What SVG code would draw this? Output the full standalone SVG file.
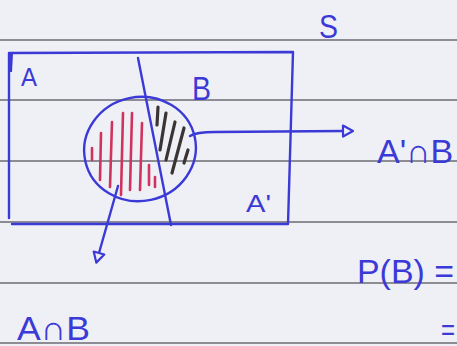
<svg xmlns="http://www.w3.org/2000/svg" width="457" height="346" viewBox="0 0 457 346">
<defs>
<style>
.rule{stroke:#6b6b70;stroke-width:1.6;fill:none}
.pen{stroke:#3c3ad6;stroke-width:2.4;fill:none;stroke-linecap:round;stroke-linejoin:round}
.red{stroke:#d0345e;stroke-width:2.6;stroke-linecap:round;fill:none}
.dark{stroke:#3a3434;stroke-width:3.2;stroke-linecap:round;fill:none}
.lbl{font-family:"Liberation Sans","DejaVu Sans",sans-serif;fill:#3c3ad6}
</style>
<marker id="tri" viewBox="0 0 14 14" refX="2" refY="7" markerWidth="14" markerHeight="14" markerUnits="userSpaceOnUse" orient="auto">
<path d="M2,1.5 L12,7 L2,12.5 Z" fill="#eef0f6" stroke="#3c3ad6" stroke-width="2.2" stroke-linejoin="round"/>
</marker>
</defs>
<rect width="457" height="346" fill="#eef0f6"/>
<g id="ruled-lines">
<line class="rule" x1="0" y1="40" x2="457" y2="40"/>
<line class="rule" x1="0" y1="100" x2="457" y2="100"/>
<line class="rule" x1="0" y1="161" x2="457" y2="161"/>
<line class="rule" x1="0" y1="222" x2="457" y2="222"/>
<line class="rule" x1="0" y1="283" x2="457" y2="283"/>
<line class="rule" x1="0" y1="343" x2="457" y2="343"/>
</g>
<g id="sample-space">
<path class="pen" d="M9,53 L293,52 L288,224 L12,224 M9,53 L9,218"/>
<path d="M9,54 L13,54 L12,72 L9,72 Z" fill="#3c3ad6"/>
</g>
<g id="set-B">
<ellipse class="pen" cx="140" cy="149" rx="56" ry="52" transform="rotate(-12 140 149)"/>
<line class="pen" x1="138" y1="58" x2="171" y2="225"/>
</g>
<g id="hatch-A-and-B">
<line class="red" x1="92" y1="148" x2="92" y2="160"/>
<line class="red" x1="101" y1="133" x2="100" y2="180"/>
<line class="red" x1="112" y1="122" x2="110" y2="187"/>
<line class="red" x1="123" y1="113" x2="121" y2="195"/>
<line class="red" x1="132" y1="113" x2="130" y2="190"/>
<line class="red" x1="142" y1="123" x2="140" y2="190"/>
<line class="red" x1="149" y1="165" x2="149" y2="185"/>
<line class="red" x1="155" y1="177" x2="155" y2="187"/>
</g>
<g id="hatch-A-prime-and-B">
<line class="dark" x1="158" y1="107" x2="157" y2="125"/>
<line class="dark" x1="166" y1="113" x2="160" y2="150"/>
<line class="dark" x1="175" y1="122" x2="166" y2="160"/>
<line class="dark" x1="184" y1="128" x2="172" y2="173"/>
<line class="dark" x1="188" y1="150" x2="184" y2="163"/>
</g>
<g id="connectors">
<path class="pen" d="M190,136 Q196,132 215,132 L343,131" marker-end="url(#tri)"/>
<path class="pen" d="M118,186 L99,253" marker-end="url(#tri)"/>
</g>
<g id="labels">
<text class="lbl" x="319" y="38" font-size="33" textLength="19" lengthAdjust="spacingAndGlyphs">S</text>
<text class="lbl" x="21" y="86" font-size="26" textLength="16" lengthAdjust="spacingAndGlyphs">A</text>
<text class="lbl" x="192" y="100" font-size="34" textLength="19" lengthAdjust="spacingAndGlyphs">B</text>
<text class="lbl" x="246" y="212" font-size="24" textLength="25" lengthAdjust="spacingAndGlyphs">A'</text>
<text class="lbl" x="377" y="163" font-size="34">A'∩B</text>
<text class="lbl" x="357" y="283" font-size="34" textLength="97" lengthAdjust="spacingAndGlyphs">P(B) =</text>
<text class="lbl" x="441" y="340" font-size="30" textLength="14" lengthAdjust="spacingAndGlyphs">=</text>
<text class="lbl" x="17" y="340" font-size="34" textLength="73" lengthAdjust="spacingAndGlyphs">A∩B</text>
</g>
</svg>
